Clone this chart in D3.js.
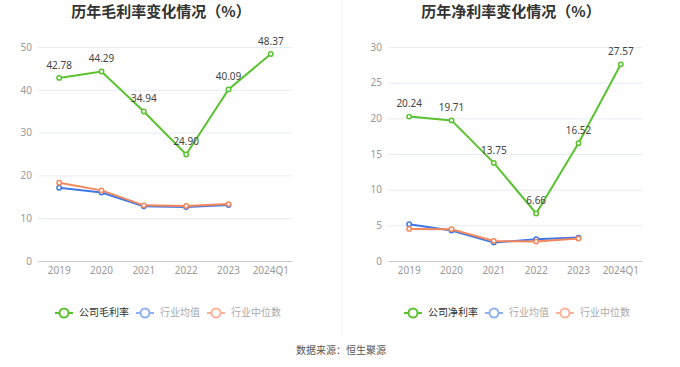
<!DOCTYPE html>
<html>
<head>
<meta charset="utf-8">
<script src="https://cdn.jsdelivr.net/npm/d3@7"></script>
<style>
  body { margin: 0; background: #fff; }
  svg { display: block; font-family: "Noto Sans CJK SC", "Noto Sans", sans-serif; }
</style>
</head>
<body>
<script>
var width = 680;
var height = 367;

var years = ['2019', '2020', '2021', '2022', '2023', '2024Q1'];

// 毛利率
var grossCompany = [42.78, 44.29, 34.94, 24.90, 40.09, 48.37];
var grossAvg = [17.1, 16.0, 12.8, 12.6, 13.1];
var grossMedian = [18.3, 16.5, 13.0, 12.85, 13.3];
var grossTicks = [0, 10, 20, 30, 40, 50];

// 净利率
var netCompany = [20.24, 19.71, 13.75, 6.66, 16.52, 27.57];
var netAvg = [5.16, 4.27, 2.58, 3.05, 3.28];
var netMedian = [4.5, 4.45, 2.8, 2.72, 3.14];
var netTicks = [0, 5, 10, 15, 20, 25, 30];

var green = '#5ac22e';
var blue = '#3f78e6';
var orange = '#f5875c';

var svg = d3.select('body')
    .append('svg')
    .attr('width', width)
    .attr('height', height);

// divider
svg.append('line')
    .attr('x1', 342).attr('x2', 342)
    .attr('y1', 0).attr('y2', 337)
    .attr('stroke', '#f2f2f2')
    .attr('stroke-width', 1);

svg.append('text')
    .attr('x', 341)
    .attr('y', 351)
    .attr('text-anchor', 'middle')
    .attr('dominant-baseline', 'middle')
    .attr('font-size', '10px')
    .attr('fill', '#555')
    .text('数据来源：恒生聚源');

function drawChart(opt) {
    var g = svg.append('g');

    var xScale = d3.scaleBand()
        .domain(years)
        .range([opt.left, opt.right]);

    var yScale = d3.scaleLinear()
        .domain([0, d3.max(opt.ticks)])
        .range([261, 47]);

    var cx = function(i) { return xScale(years[i]) + xScale.bandwidth() / 2; };

    g.append('text')
        .attr('x', opt.titleX)
        .attr('y', 13)
        .attr('text-anchor', 'middle')
        .attr('dominant-baseline', 'middle')
        .attr('font-size', '15px')
        .attr('font-weight', 'bold')
        .attr('fill', '#333')
        .text(opt.title);

    var yAxis = d3.axisLeft(yScale)
        .tickValues(opt.ticks)
        .tickSize(-(opt.right - opt.left))
        .tickPadding(6);

    var ya = g.append('g')
        .attr('transform', 'translate(' + opt.left + ',0)')
        .call(yAxis);
    ya.select('.domain').remove();
    ya.selectAll('line').attr('stroke', '#e6ebf5');
    ya.selectAll('text')
        .attr('fill', '#999')
        .attr('font-size', '10px')
        .attr('font-family', '"Noto Sans", sans-serif');

    var xAxis = d3.axisBottom(xScale)
        .tickSize(0)
        .tickSizeOuter(0)
        .tickPadding(6);

    var xa = g.append('g')
        .attr('transform', 'translate(0,261)')
        .call(xAxis);
    xa.select('.domain').attr('stroke', '#c8c8c8');
    xa.selectAll('text')
        .attr('fill', '#999')
        .attr('font-size', '10px')
        .attr('font-family', '"Noto Sans", sans-serif');

    var line = d3.line()
        .x(function(d, i) { return cx(i); })
        .y(function(d) { return yScale(d); });

    var series = [
        { data: opt.company, color: green },
        { data: opt.avg, color: blue },
        { data: opt.median, color: orange }
    ];

    series.forEach(function(s) {
        g.append('path')
            .attr('d', line(s.data))
            .attr('fill', 'none')
            .attr('stroke', s.color)
            .attr('stroke-width', 2);

        g.selectAll(null)
            .data(s.data)
            .enter()
            .append('circle')
            .attr('cx', function(d, i) { return cx(i); })
            .attr('cy', function(d) { return yScale(d); })
            .attr('r', 2.2)
            .attr('fill', '#fff')
            .attr('stroke', s.color)
            .attr('stroke-width', 1.5);
    });

    g.selectAll(null)
        .data(opt.company)
        .enter()
        .append('text')
        .attr('x', function(d, i) { return cx(i); })
        .attr('y', function(d) { return yScale(d) - 12; })
        .attr('text-anchor', 'middle')
        .attr('dominant-baseline', 'middle')
        .attr('font-size', '10px')
        .attr('font-family', '"Noto Sans", sans-serif')
        .attr('fill', '#444')
        .text(function(d) { return d.toFixed(2); });

    // legend
    var legendItems = [
        { name: opt.legendName, color: green, text: '#333' },
        { name: '行业均值', color: '#8fb1f2', text: '#aaa' },
        { name: '行业中位数', color: '#f8b39a', text: '#aaa' }
    ];
    var lg = g.append('g')
        .attr('transform', 'translate(' + opt.legendX + ',313)');
    var offsets = [0, 81, 152];
    legendItems.forEach(function(d, i) {
        var item = lg.append('g').attr('transform', 'translate(' + offsets[i] + ',0)');
        item.append('line')
            .attr('x1', 0).attr('x2', 18)
            .attr('y1', 0).attr('y2', 0)
            .attr('stroke', d.color)
            .attr('stroke-width', 2);
        item.append('circle')
            .attr('cx', 9).attr('cy', 0)
            .attr('r', 4.5)
            .attr('fill', '#fff')
            .attr('stroke', d.color)
            .attr('stroke-width', 2);
        item.append('text')
            .attr('x', 24)
            .attr('y', 0)
            .attr('dominant-baseline', 'middle')
            .attr('font-size', '10px')
            .attr('fill', d.text)
            .text(d.name);
    });
}

drawChart({
    left: 38, right: 292, titleX: 161,
    title: '历年毛利率变化情况（%）',
    ticks: grossTicks,
    company: grossCompany, avg: grossAvg, median: grossMedian,
    legendName: '公司毛利率', legendX: 55
});

drawChart({
    left: 388, right: 642, titleX: 511,
    title: '历年净利率变化情况（%）',
    ticks: netTicks,
    company: netCompany, avg: netAvg, median: netMedian,
    legendName: '公司净利率', legendX: 404
});
</script>
</body>
</html>
